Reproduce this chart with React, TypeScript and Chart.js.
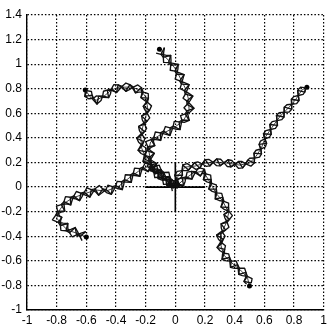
import { useEffect, useRef } from 'react';
import { Chart, registerables } from 'chart.js';

Chart.register(...registerables);

const xTicks = [-1, -0.8, -0.6, -0.4, -0.2, 0, 0.2, 0.4, 0.6, 0.8, 1];
const yTicks = [-1, -0.8, -0.6, -0.4, -0.2, 0, 0.2, 0.4, 0.6, 0.8, 1, 1.2, 1.4];

// Arm centre-lines (x, y), origin -> tip
const armTop: [number, number][] = [
  [0, 0], [-0.08, 0.073], [-0.147, 0.138], [-0.167, 0.22], [-0.18, 0.3], [-0.167, 0.366],
  [-0.127, 0.407], [-0.08, 0.439], [-0.013, 0.48], [0.053, 0.537], [0.093, 0.626],
  [0.087, 0.724], [0.067, 0.805], [0.04, 0.87], [0.007, 0.951], [-0.033, 1.016],
  [-0.08, 1.073], [-0.107, 1.122],
];
const armUpperLeft: [number, number][] = [
  [0, 0], [-0.08, 0.073], [-0.147, 0.154], [-0.2, 0.236], [-0.227, 0.317], [-0.233, 0.407],
  [-0.22, 0.488], [-0.2, 0.569], [-0.187, 0.65], [-0.2, 0.732], [-0.233, 0.789],
  [-0.3, 0.813], [-0.38, 0.813], [-0.433, 0.789], [-0.48, 0.74], [-0.533, 0.707],
  [-0.567, 0.724], [-0.607, 0.789],
];
const armRight: [number, number][] = [
  [0, 0], [0.02, 0.098], [0.067, 0.163], [0.133, 0.171], [0.2, 0.195], [0.267, 0.203],
  [0.353, 0.195], [0.433, 0.179], [0.5, 0.195], [0.54, 0.244], [0.58, 0.317],
  [0.607, 0.407], [0.653, 0.488], [0.707, 0.577], [0.767, 0.65], [0.813, 0.715],
  [0.853, 0.789], [0.887, 0.813],
];
const armLowerRight: [number, number][] = [
  [0, 0], [0.053, 0.057], [0.12, 0.114], [0.187, 0.13], [0.233, 0.041], [0.273, -0.049],
  [0.32, -0.114], [0.36, -0.211], [0.34, -0.301], [0.307, -0.382], [0.307, -0.472],
  [0.327, -0.553], [0.367, -0.602], [0.413, -0.65], [0.453, -0.691], [0.487, -0.74],
  [0.5, -0.805],
];
const armLowerLeft: [number, number][] = [
  [0, 0], [-0.047, 0.073], [-0.113, 0.138], [-0.18, 0.171], [-0.247, 0.13], [-0.313, 0.073],
  [-0.38, 0.008], [-0.467, -0.033], [-0.533, -0.024], [-0.6, -0.049], [-0.693, -0.089],
  [-0.747, -0.13], [-0.78, -0.187], [-0.8, -0.252], [-0.767, -0.301], [-0.727, -0.35],
  [-0.667, -0.374], [-0.6, -0.407],
];
const arms = [armTop, armUpperLeft, armRight, armLowerRight, armLowerLeft];

const crossH: [number, number][] = [[-0.2, 0], [0.2, 0]];
const crossV: [number, number][] = [[0, -0.2], [0, 0.2]];

const fmt = (v: number) => String(Math.round(v * 10) / 10);

const ribbonPlugin = {
  id: 'ribbon',
  afterDatasetsDraw(chart: any) {
    const { ctx, chartArea } = chart;
    const xs = chart.scales.x;
    const ys = chart.scales.y;
    ctx.save();
    ctx.beginPath();
    ctx.rect(chartArea.left, chartArea.top, chartArea.right - chartArea.left, chartArea.bottom - chartArea.top);
    ctx.clip();
    ctx.strokeStyle = '#111';
    ctx.lineWidth = 1.35;
    ctx.lineJoin = 'round';
    ctx.setLineDash([]);
    arms.forEach((arm, ai) => {
      const pts = arm.map(([x, y]) => [xs.getPixelForValue(x), ys.getPixelForValue(y)]);
      const cum = [0];
      for (let i = 1; i < pts.length; i++) {
        cum.push(cum[i - 1] + Math.hypot(pts[i][0] - pts[i - 1][0], pts[i][1] - pts[i - 1][1]));
      }
      const L = cum[cum.length - 1];
      const period = 22;
      const step = period / 6;
      const pos: number[][] = [];
      let k = 0;
      for (let s = 0; s <= L + 0.001; s += step) {
        while (k < pts.length - 2 && cum[k + 1] < s) k++;
        const seg = cum[k + 1] - cum[k] || 1;
        const t = Math.min(1, Math.max(0, (s - cum[k]) / seg));
        pos.push([pts[k][0] + (pts[k + 1][0] - pts[k][0]) * t, pts[k][1] + (pts[k + 1][1] - pts[k][1]) * t, s]);
      }
      const amp = 5;
      const A: number[][] = [];
      const B: number[][] = [];
      for (let i = 0; i < pos.length; i++) {
        const p0 = pos[Math.max(0, i - 1)];
        const p1 = pos[Math.min(pos.length - 1, i + 1)];
        let tx = p1[0] - p0[0];
        let ty = p1[1] - p0[1];
        const n = Math.hypot(tx, ty) || 1;
        tx /= n; ty /= n;
        const ph = ((pos[i][2] / period + ai * 0.21) % 1 + 1) % 1;
        const tri = ph < 0.5 ? 1 - 4 * ph : -3 + 4 * ph;
        const w = amp * tri;
        A.push([pos[i][0] - ty * w, pos[i][1] + tx * w]);
        B.push([pos[i][0] + ty * w, pos[i][1] - tx * w]);
      }
      const poly = (P: number[][]) => {
        ctx.beginPath();
        P.forEach((p, i) => (i ? ctx.lineTo(p[0], p[1]) : ctx.moveTo(p[0], p[1])));
        ctx.stroke();
      };
      poly(A);
      poly(B);
      ctx.beginPath();
      for (let i = 0; i < A.length; i++) {
        const p = i % 2 === 0 ? A[i] : B[i];
        if (i === 0) ctx.moveTo(p[0], p[1]);
        else ctx.lineTo(p[0], p[1]);
      }
      ctx.stroke();
    });
    ctx.restore();
  },
};

export default function App() {
  const ref = useRef<HTMLCanvasElement | null>(null);
  useEffect(() => {
    document.body.style.margin = '0';
    const font = { family: '"Liberation Sans", Arial, sans-serif', size: 12 };
    const armSets = arms.map((arm) => ({
      data: arm.map(([x, y]) => ({ x, y })),
      borderColor: '#111',
      borderWidth: 0.8,
      pointRadius: arm.map((_, i) => (i === arm.length - 1 ? 2.5 : 0)),
      pointBackgroundColor: '#000',
      pointBorderWidth: 0,
      showLine: true,
      fill: false,
    }));
    const crossSets = [crossH, crossV].map((c) => ({
      data: c.map(([x, y]) => ({ x, y })),
      borderColor: '#000',
      borderWidth: 1.6,
      pointRadius: 0,
      showLine: true,
      fill: false,
    }));
    const chart = new Chart(ref.current as HTMLCanvasElement, {
      type: 'scatter',
      data: { datasets: [...armSets, ...crossSets] as any },
      plugins: [ribbonPlugin],
      options: {
        animation: false,
        responsive: true,
        maintainAspectRatio: false,
        layout: { padding: { top: 15, right: 3, left: 0, bottom: 0 } },
        plugins: { legend: { display: false }, tooltip: { enabled: false } },
        scales: {
          x: {
            type: 'linear',
            min: -1,
            max: 1,
            afterBuildTicks: (s: any) => { s.ticks = xTicks.map((v) => ({ value: v })); },
            afterFit: (s: any) => { s.height = 18; },
            ticks: { callback: (v: any) => fmt(Number(v)), color: '#000', font, padding: 3, maxRotation: 0, autoSkip: false },
            grid: { color: '#000', lineWidth: 1.2, drawTicks: false },
            border: { display: true, color: '#000', width: 1.4, dash: [1.5, 2] },
          },
          y: {
            type: 'linear',
            min: -1,
            max: 1.4,
            afterBuildTicks: (s: any) => { s.ticks = yTicks.map((v) => ({ value: v })); },
            afterFit: (s: any) => { s.width = 27; },
            ticks: { callback: (v: any) => fmt(Number(v)), color: '#000', font, padding: 5, autoSkip: false },
            grid: { color: '#000', lineWidth: 1.2, drawTicks: false },
            border: { display: true, color: '#000', width: 1.4, dash: [1.5, 2] },
          },
        },
      },
    });
    return () => chart.destroy();
  }, []);
  return (
    <div style={{ width: 330, height: 328, position: 'relative', background: '#fff' }}>
      <canvas ref={ref} />
    </div>
  );
}
